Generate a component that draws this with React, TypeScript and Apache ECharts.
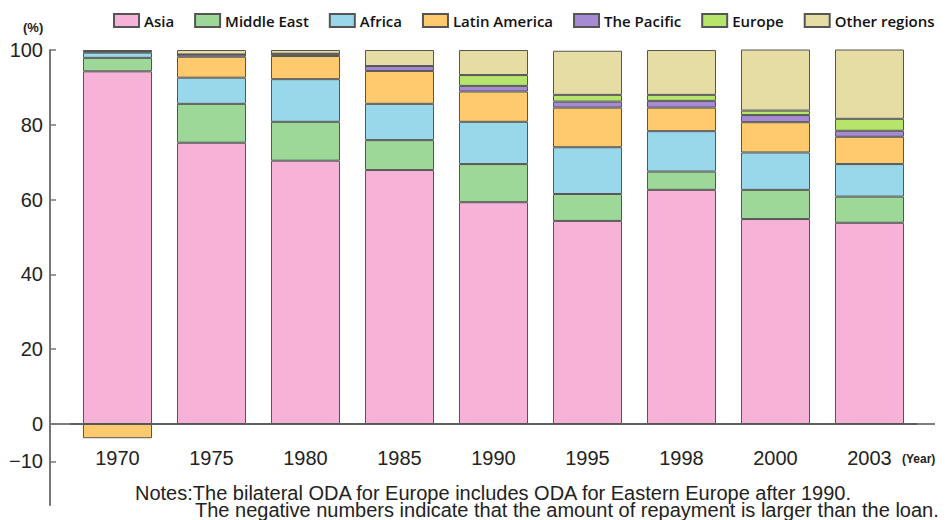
import React, { useEffect, useRef } from "react";
import * as echarts from "echarts";

const years = ["1970", "1975", "1980", "1985", "1990", "1995", "1998", "2000", "2003"];
const asia = [94.3, 75.2, 70.4, 67.9, 59.3, 54.3, 62.6, 54.8, 53.8];
const middleEast = [3.6, 10.4, 10.4, 8.0, 10.2, 7.2, 4.9, 7.8, 7.0];
const africa = [1.4, 7.0, 11.4, 9.7, 11.3, 12.5, 10.8, 10.0, 8.7];
const latinAmerica = [-3.8, 5.6, 6.2, 8.8, 8.1, 10.6, 6.3, 8.1, 7.3];
const pacific = [0.3, 0.6, 0.6, 1.3, 1.5, 1.6, 1.8, 1.9, 1.6];
const europe = [0, 0, 0, 0, 2.9, 1.8, 1.6, 1.2, 3.2];
const otherRegions = [0.4, 1.2, 1.0, 4.3, 6.7, 11.8, 12.0, 16.4, 18.6];
const yTicks = [-10, 0, 20, 40, 60, 80, 100];
const noteLines = [
  "Notes:The bilateral ODA for Europe includes ODA for Eastern Europe after 1990.",
  "The negative numbers indicate that the amount of repayment is larger than the loan.",
];

const seriesDefs = [
  { name: "Asia", data: asia, color: "#F7B2D8" },
  { name: "Middle East", data: middleEast, color: "#9DD898" },
  { name: "Africa", data: africa, color: "#99D8EA" },
  { name: "Latin America", data: latinAmerica, color: "#FFCA6E" },
  { name: "The Pacific", data: pacific, color: "#A78AD4" },
  { name: "Europe", data: europe, color: "#B5E56A" },
  { name: "Other regions", data: otherRegions, color: "#E6DDA4" },
];

export default function App() {
  const ref = useRef<HTMLDivElement>(null);
  useEffect(() => {
    const chart = echarts.init(ref.current!, null, { renderer: "svg" });
    chart.setOption({
      animation: false,
      backgroundColor: "#ffffff",
      legend: {
        left: 113,
        top: 13,
        padding: 0,
        width: 860,
        itemWidth: 25,
        itemHeight: 13,
        itemGap: 20,
        icon: "rect",
        textStyle: {
          fontFamily: "Open Sans",
          fontWeight: 600,
          fontSize: 15,
          color: "#111",
        },
      },
      grid: { left: 70.5, right: 31.5, top: 50, bottom: 15, containLabel: false, outerBoundsMode: "none" },
      xAxis: {
        type: "category",
        data: years,
        offset: -81,
        axisLine: { onZero: false, lineStyle: { color: "#555", width: 1.5 } },
        axisTick: { show: false },
        axisLabel: {
          margin: 24,
          fontSize: 20,
          color: "#222",
          fontFamily: "Liberation Sans",
        },
      },
      yAxis: {
        type: "value",
        min: -21.66,
        max: 100,
        offset: 20.5,
        axisLine: { show: true, lineStyle: { color: "#777", width: 2 } },
        axisTick: {
          show: true,
          inside: true,
          length: 6,
          customValues: yTicks,
          lineStyle: { color: "#777", width: 1.5 },
        },
        axisLabel: {
          customValues: yTicks,
          margin: 7,
          fontSize: 20,
          color: "#222",
          fontFamily: "Liberation Sans",
          formatter: (v: number) => (v < 0 ? "\u2212" + Math.abs(v) : String(v)),
        },
        splitLine: { show: false },
      },
      series: seriesDefs.map((s) => ({
        name: s.name,
        type: "bar",
        stack: "total",
        data: s.data,
        barWidth: 69,
        itemStyle: { color: s.color, borderColor: "#555", borderWidth: 1 },
      })),
    });
    const y0 = chart.convertToPixel({ yAxisIndex: 0 }, 0) as number;
    const yBottom = chart.convertToPixel({ yAxisIndex: 0 }, -21.66) as number;
    chart.setOption({
      xAxis: { offset: -(yBottom - y0) },
      graphic: [
        {
          type: "line",
          shape: { x1: 50, y1: y0, x2: 935, y2: y0 },
          style: { stroke: "#555", lineWidth: 1.5 },
        },
        {
          type: "text",
          left: 23,
          top: 21,
          style: { text: "(%)", fontSize: 13, fontWeight: "bold", fill: "#222", fontFamily: "Liberation Sans" },
        },
        {
          type: "text",
          left: 902,
          top: 453,
          style: { text: "(Year)", fontSize: 12, fontWeight: "bold", fill: "#222", fontFamily: "Liberation Sans" },
        },
        {
          type: "text",
          left: 135,
          top: 483,
          style: {
            text: "{a|" + noteLines[0] + "}\n{b|" + noteLines[1] + "}",
            fill: "#222",
            rich: {
              a: { fontSize: 20, lineHeight: 17, fontFamily: "Liberation Sans", fill: "#222" },
              b: { fontSize: 20, lineHeight: 17, fontFamily: "Liberation Sans", fill: "#222", padding: [0, 0, 0, 60] },
            },
          },
        },
      ],
    });
    return () => chart.dispose();
  }, []);
  return (
    <div
      ref={ref}
      style={{ position: "fixed", left: 0, top: 0, width: 948, height: 520 }}
    />
  );
}
